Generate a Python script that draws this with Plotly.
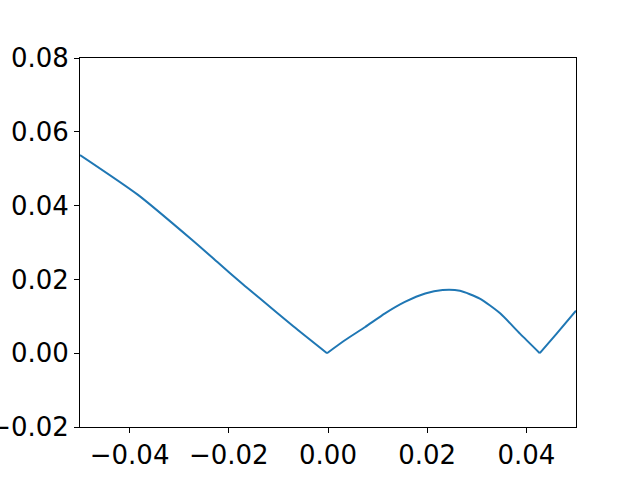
import plotly.graph_objects as go

x_vals = [-0.05, -0.0383, -0.0275, -0.0223, -0.0171, -0.0137, -0.0070, -0.0002,
          0.0034, 0.0075, 0.0115, 0.0155, 0.0196, 0.0231, 0.0266, 0.0306, 0.0347, 0.0387,
          0.0427, 0.0461, 0.05]
y_vals = [0.0537, 0.0429, 0.0308, 0.0247, 0.0186, 0.0148, 0.0073, 0.0,
          0.0035, 0.0071, 0.0108, 0.0139, 0.0162, 0.0171, 0.0169, 0.0148, 0.0108, 0.0053,
          0.0, 0.0053, 0.0115]

x_ticks = [-0.04, -0.02, 0.0, 0.02, 0.04]
y_ticks = [-0.02, 0.0, 0.02, 0.04, 0.06, 0.08]

# the curve has sharp corners where it touches zero; draw smooth pieces between them
zero_idx = [i for i, v in enumerate(y_vals) if v == 0.0]
bounds = [0] + zero_idx + [len(x_vals) - 1]

fig = go.Figure()
for a, b in zip(bounds[:-1], bounds[1:]):
    fig.add_trace(go.Scatter(x=x_vals[a:b + 1], y=y_vals[a:b + 1], mode="lines",
                             line=dict(color="#1f77b4", width=2, shape="spline", smoothing=0.6)))

axis_common = dict(showgrid=False, zeroline=False, showline=True, linecolor="black", linewidth=1,
                   mirror=True, ticks="outside", ticklen=5, tickwidth=1, tickcolor="black",
                   automargin=False,
                   tickfont=dict(family="DejaVu Sans", size=26, color="black"))
fig.update_xaxes(range=[-0.05, 0.05], tickvals=x_ticks, tickformat=".2f", **axis_common)
fig.update_yaxes(range=[-0.02, 0.08], tickvals=y_ticks, tickformat=".2f", **axis_common)

fig.update_layout(width=640, height=480, margin=dict(l=80, r=64, t=58, b=53),
                  paper_bgcolor="white", plot_bgcolor="white", showlegend=False,
                  font=dict(family="DejaVu Sans"))
fig.write_html("out.html", config={"displayModeBar": False},
               post_script="document.body.style.margin='0';")
